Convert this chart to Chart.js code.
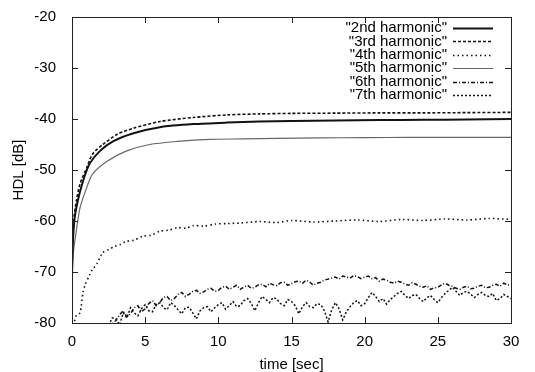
<!DOCTYPE html>
<html>
<head>
<meta charset="utf-8">
<script src="https://cdn.jsdelivr.net/npm/chart.js@4/dist/chart.umd.min.js"></script>
<style>
  html, body { margin: 0; padding: 0; background: #fff; }
  #wrap { width: 535px; height: 372px; }
</style>
</head>
<body>
<div id="wrap"><canvas id="hdlChart" width="535" height="372"></canvas></div>
<script>
// Données (temps en secondes, HDL en dB)
const seriesLabels = ['"2nd harmonic"', '"3rd harmonic"', '"4th harmonic"', '"5th harmonic"', '"6th harmonic"', '"7th harmonic"'];

const time2 = [0, 0.05, 0.1, 0.2, 0.4, 0.75, 1.2, 1.9, 2.8, 4.2, 6, 8.3, 10.6, 12.8, 15, 18, 21, 24, 27, 30];
const hdl2 = [-71, -65, -62, -59, -56, -52.2, -48.8, -46.3, -44.4, -42.8, -41.6, -41, -40.7, -40.5, -40.4, -40.3, -40.2, -40.15, -40.1, -40.0];

const time3 = [0, 0.05, 0.1, 0.3, 0.55, 1, 1.4, 2.1, 3.1, 4.2, 6, 8.3, 10.6, 12.8, 15, 18, 21, 24, 27, 30];
const hdl3 = [-66, -62, -60, -56, -52.7, -49.6, -46.9, -45, -43, -41.8, -40.5, -39.7, -39.2, -39.0, -38.9, -38.85, -38.8, -38.8, -38.75, -38.7];

const time4 = [0.1, 0.3, 0.55, 0.75, 0.9, 1.2, 1.4, 1.7, 2.1, 2.5, 2.9, 3.3, 3.7, 4.2, 4.8, 5.4, 6, 6.6, 7.2, 7.8, 8.3, 9, 9.8, 10.6, 11.5, 12.8, 14, 15, 16.5, 18, 19.5, 21, 22.5, 24, 25.5, 27, 28.5, 30];
const hdl4 = [-80.5, -78.5, -78, -74, -72.5, -70.6, -69.5, -68.4, -66.2, -65.6, -65.0, -64.6, -64.0, -63.8, -63.0, -62.8, -62.0, -61.8, -61.3, -61.4, -60.9, -61.0, -60.6, -60.5, -60.4, -60.1, -60.3, -59.9, -60.2, -60.0, -59.8, -60.1, -59.7, -59.9, -59.6, -59.8, -59.5, -59.7];

const time5 = [0, 0.1, 0.2, 0.55, 1, 1.4, 2.4, 3.7, 5.3, 7.2, 9.4, 11.7, 14, 17, 20, 23, 26, 30];
const hdl5 = [-70, -66, -63.8, -57.4, -53.5, -50.8, -48.3, -46.3, -45, -44.4, -44, -43.9, -43.8, -43.7, -43.65, -43.6, -43.6, -43.6];

// Harmoniques 6 et 7 : courbes bruitées, même base de temps (pas de 0,25 s)
const timeNoisy = [
    2.5, 2.75,
    3, 3.25, 3.5, 3.75, 4, 4.25, 4.5, 4.75, 5, 5.25, 5.5, 5.75, 6, 6.25, 6.5, 6.75,
    7, 7.25, 7.5, 7.75, 8, 8.25, 8.5, 8.75, 9, 9.25, 9.5, 9.75, 10, 10.25, 10.5, 10.75,
    11, 11.25, 11.5, 11.75, 12, 12.25, 12.5, 12.75, 13, 13.25, 13.5, 13.75, 14, 14.25, 14.5, 14.75,
    15, 15.25, 15.5, 15.75, 16, 16.25, 16.5, 16.75, 17, 17.25, 17.5, 17.75, 18, 18.25, 18.5, 18.75,
    19, 19.25, 19.5, 19.75, 20, 20.25, 20.5, 20.75, 21, 21.25, 21.5, 21.75, 22, 22.25, 22.5, 22.75,
    23, 23.25, 23.5, 23.75, 24, 24.25, 24.5, 24.75, 25, 25.25, 25.5, 25.75, 26, 26.25, 26.5, 26.75,
    27, 27.25, 27.5, 27.75, 28, 28.25, 28.5, 28.75, 29, 29.25, 29.5, 29.75,
    30
];
const hdl6 = [
    -81, -80.2,
    -79.5, -78.4, -77.6, -78.8, -78.2, -77.0, -76.6, -77.8, -77.2, -76.2, -75.6, -76.6, -76.0, -75.0, -74.8, -75.6,
    -75.2, -74.4, -74.0, -74.8, -74.4, -73.8, -73.6, -74.2, -73.9, -73.4, -73.2, -73.8, -73.6, -73.0, -72.8, -73.4,
    -73.0, -72.6, -73.4, -72.9, -72.6, -73.2, -73.0, -72.5, -72.4, -72.9, -72.2, -72.5, -72.7, -72.1, -72.0, -72.6,
    -72.3, -71.9, -71.8, -72.2, -71.6, -72.0, -72.6, -72.2, -72.0, -71.6, -71.4, -71.2, -71.0, -71.4, -70.8, -71.0,
    -71.2, -70.7, -70.9, -71.3, -71.0, -70.8, -71.3, -71.1, -71.8, -71.4, -71.6, -72.0, -72.2, -71.8, -72.0, -72.4,
    -72.6, -72.1, -72.4, -72.8, -73.0, -72.7, -73.4, -73.1, -73.0, -72.5, -72.2, -72.6, -72.8, -73.2, -73.4, -73.0,
    -72.8, -73.3, -73.2, -72.8, -72.6, -73.1, -73.0, -72.6, -72.4, -72.8, -72.2, -72.5,
    -72.6
];
const hdl7 = [
    -80.5, -79.0,
    -79.2, -80.4, -78.0, -79.0, -77.0, -78.0, -78.6, -77.2, -76.4, -77.6, -77.8, -76.4, -76.0, -77.0, -77.4, -76.0,
    -76.6, -77.4, -78.2, -77.0, -76.9, -78.0, -79.2, -77.6, -77.0, -76.8, -77.8, -77.0, -76.4, -76.0, -77.3, -76.6,
    -75.8, -76.8, -76.6, -75.6, -75.2, -76.2, -77.6, -76.0, -74.8, -75.4, -76.0, -75.0, -75.3, -76.2, -76.6, -75.4,
    -75.8, -76.6, -78.2, -76.8, -76.0, -76.8, -77.0, -76.2, -76.4, -77.6, -79.8, -77.4, -76.0, -77.2, -79.4, -77.8,
    -76.8, -76.0, -75.6, -76.6, -76.2, -75.0, -74.0, -74.8, -75.8, -75.2, -76.3, -75.4, -74.8, -74.2, -73.8, -74.6,
    -75.2, -74.6, -74.4, -75.2, -75.8, -75.0, -74.6, -75.4, -76.0, -75.0, -74.2, -73.6, -73.0, -73.8, -74.6, -74.0,
    -73.8, -74.4, -75.0, -74.4, -74.0, -74.6, -74.8, -74.2, -75.6, -75.2, -74.4, -74.8,
    -75.2
];

const xTicks = [0, 5, 10, 15, 20, 25, 30];
const yTicks = [-80, -70, -60, -50, -40, -30, -20];

const FONT = "'Liberation Sans', Arial, Helvetica, sans-serif";

function pairs(times, values) {
    return times.map((t, i) => ({ x: t, y: values[i] }));
}

function makeSet(label, times, values, color, width, dash, tension) {
    return {
        label: label,
        data: pairs(times, values),
        borderColor: color,
        backgroundColor: color,
        borderWidth: width,
        borderDash: dash,
        pointRadius: 0,
        tension: tension,
        fill: false,
    };
}

const datasets = [
    makeSet(seriesLabels[0], time2, hdl2, '#111', 2, [], 0.25),
    makeSet(seriesLabels[1], time3, hdl3, '#111', 1.6, [3, 2], 0.25),
    makeSet(seriesLabels[2], time4, hdl4, '#111', 1.6, [1.5, 3], 0.25),
    makeSet(seriesLabels[3], time5, hdl5, '#666', 1.2, [], 0.25),
    // les courbes bruitées ne sont pas lissées
    makeSet(seriesLabels[4], timeNoisy, hdl6, '#111', 1.5, [4, 2, 1, 2], 0),
    makeSet(seriesLabels[5], timeNoisy, hdl7, '#111', 1.5, [2, 2], 0),
];

// Cadre + graduations intérieures sur les quatre côtés (style gnuplot)
const frameTicks = {
    id: 'frameTicks',
    afterDatasetsDraw(chart) {
        const { ctx, chartArea: a, scales } = chart;
        const len = 6;
        ctx.save();
        ctx.strokeStyle = '#222';
        ctx.lineWidth = 1;
        ctx.setLineDash([]);
        ctx.strokeRect(a.left + 0.5, a.top + 0.5, a.right - a.left, a.bottom - a.top);
        ctx.beginPath();
        xTicks.forEach(v => {
            const px = Math.round(scales.x.getPixelForValue(v)) + 0.5;
            ctx.moveTo(px, a.bottom); ctx.lineTo(px, a.bottom - len);
            ctx.moveTo(px, a.top); ctx.lineTo(px, a.top + len);
        });
        yTicks.forEach(v => {
            const py = Math.round(scales.y.getPixelForValue(v)) + 0.5;
            ctx.moveTo(a.left, py); ctx.lineTo(a.left + len, py);
            ctx.moveTo(a.right, py); ctx.lineTo(a.right - len, py);
        });
        ctx.stroke();
        ctx.restore();
    }
};

// Légende à droite : texte aligné à droite puis échantillon du trait
const gnuLegend = {
    id: 'gnuLegend',
    afterDraw(chart) {
        const ctx = chart.ctx;
        const textRight = 447, lineStart = 453, lineEnd = 493;
        const top = 28, step = 13.4;
        ctx.save();
        ctx.font = '15px ' + FONT;
        ctx.textAlign = 'right';
        ctx.textBaseline = 'middle';
        chart.data.datasets.forEach((ds, i) => {
            const y = top + i * step;
            ctx.fillStyle = '#000';
            ctx.fillText(ds.label, textRight, y);
            ctx.strokeStyle = ds.borderColor;
            ctx.lineWidth = ds.borderWidth;
            ctx.setLineDash(ds.borderDash);
            ctx.beginPath();
            ctx.moveTo(lineStart, Math.round(y) + 0.5);
            ctx.lineTo(lineEnd, Math.round(y) + 0.5);
            ctx.stroke();
        });
        ctx.restore();
    }
};

new Chart(document.getElementById('hdlChart'), {
    type: 'line',
    data: { datasets: datasets },
    options: {
        responsive: false,
        animation: false,
        layout: { padding: { top: 15, right: 24, left: 0, bottom: 0 } },
        plugins: {
            legend: { display: false },
            tooltip: { enabled: false },
        },
        scales: {
            x: {
                type: 'linear',
                min: 0,
                max: 30,
                afterFit: s => { s.height = 49; },
                afterBuildTicks: s => { s.ticks = xTicks.map(v => ({ value: v })); },
                ticks: { color: '#000', padding: 2, font: { family: FONT, size: 15 } },
                grid: { display: false },
                border: { display: false },
                title: { display: true, text: 'time [sec]', color: '#000', padding: { top: 0, bottom: -2 }, font: { family: FONT, size: 15 } },
            },
            y: {
                type: 'linear',
                min: -80,
                max: -20,
                afterFit: s => { s.width = 72; },
                afterBuildTicks: s => { s.ticks = yTicks.map(v => ({ value: v })); },
                ticks: { color: '#000', padding: 8, font: { family: FONT, size: 15 } },
                grid: { display: false },
                border: { display: false },
                title: { display: true, text: 'HDL [dB]', color: '#000', padding: { top: 10, bottom: 0 }, font: { family: FONT, size: 15 } },
            }
        }
    },
    plugins: [frameTicks, gnuLegend]
});
</script>
</body>
</html>
